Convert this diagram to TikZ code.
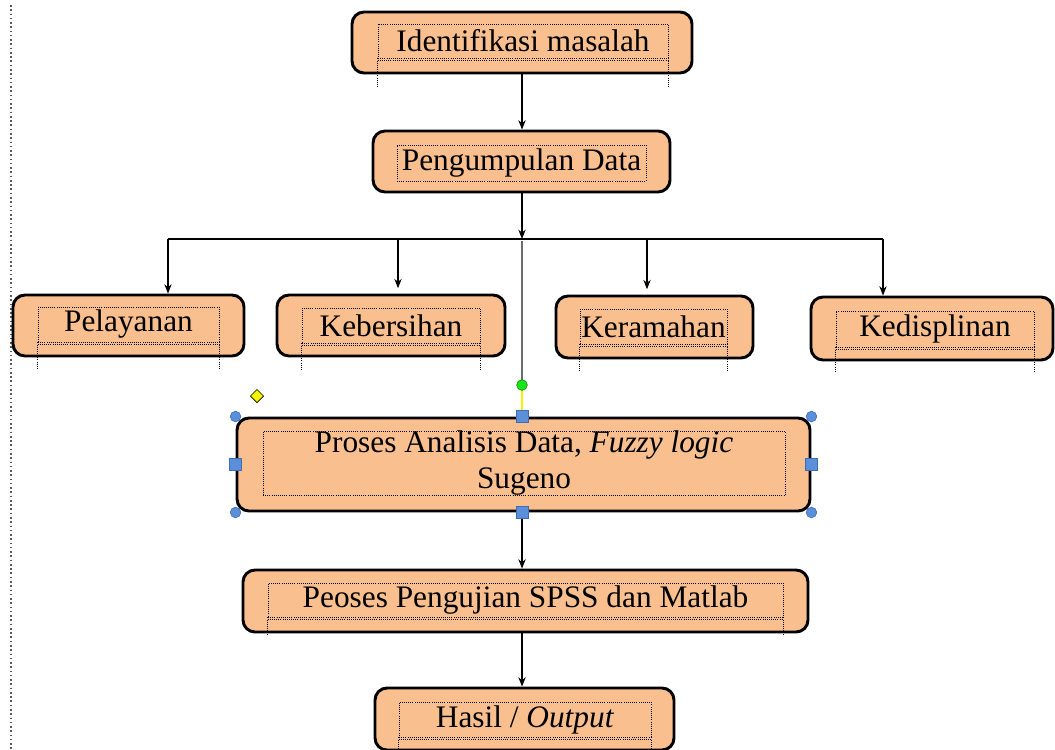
\documentclass[tikz,border=0pt]{standalone}
\usepackage{fontspec}
\setmainfont{Liberation Serif}
\usetikzlibrary{arrows.meta,calc,shapes.geometric}
\definecolor{peach}{HTML}{F9BF8F}
\definecolor{hblue}{HTML}{5B8FD9}
\definecolor{hblueD}{HTML}{3E6DB5}
\definecolor{hgreen}{HTML}{19E619}
\definecolor{hyellow}{HTML}{F5F500}
\begin{document}
\begin{tikzpicture}[x=0.75pt,y=-0.75pt,
  box/.style={draw=black, line width=2.2pt, fill=peach, rounded corners=9pt, inner sep=0pt},
  tframe/.style={draw=black, densely dotted, line width=0.6pt, inner sep=0pt,
                 font=\fontsize{23.5}{27}\selectfont, align=center},
  ext/.style={densely dotted, line width=0.6pt},
  conn/.style={line width=1pt, -{Stealth[length=7pt,width=5.5pt]}},
  plain/.style={line width=1pt},
  hcirc/.style={circle, fill=hblue, draw=hblueD, line width=0.4pt, minimum size=8pt, inner sep=0pt},
  hsq/.style={rectangle, fill=hblue, draw=hblueD, line width=0.4pt, minimum size=9pt, inner sep=0pt}]
\useasboundingbox (0,0) rectangle (1055,749);
\clip (0,0) rectangle (1055,749);

% left margin guide
\coordinate (gTop) at (11,5);
\coordinate (gBot) at (11,749);
\draw[gray!70!black, dotted, line width=1.2pt] (gTop) -- (gBot);

% boxes
\node[box, minimum width=255pt,    minimum height=45.75pt] (b1) at (522,42.5) {};
\node[box, minimum width=222.75pt, minimum height=45.75pt] (b2) at (521.5,161.5) {};
\node[box, minimum width=173.25pt, minimum height=45.75pt] (b3) at (128.5,325.5) {};
\node[box, minimum width=171pt,    minimum height=45.75pt] (b4) at (391,325.5) {};
\node[box, minimum width=147.75pt, minimum height=46.5pt]  (b5) at (654.5,327) {};
\node[box, minimum width=181.5pt,  minimum height=47.25pt] (b6) at (932,328.5) {};
\node[box, minimum width=429.75pt, minimum height=69.75pt] (b7) at (523.5,464.5) {};
\node[box, minimum width=423.75pt, minimum height=46.5pt]  (b8) at (525.5,601) {};
\node[box, minimum width=224.25pt, minimum height=46.5pt]  (b9) at (524.5,719) {};

% dotted text frames with the texts
\node[tframe, minimum width=217.5pt,  minimum height=25.5pt]  (t1) at (523,41)    {Identifikasi masalah};
\node[tframe, minimum width=186.75pt, minimum height=27pt]    (t2) at (521.5,163) {Pengumpulan Data};
\node[tframe, minimum width=135.75pt, minimum height=26.25pt] (t3) at (128.5,324.5) {Pelayanan};
\node[tframe, minimum width=133.5pt,  minimum height=26.25pt] (t4) at (391,325.5)  {Kebersihan};
\node[tframe, minimum width=110.25pt, minimum height=26.25pt] (t5) at (653.5,326.5) {Keramahan};
\node[tframe, minimum width=148.5pt,  minimum height=27pt]    (t6) at (935,329)   {Kedisplinan};
\node[tframe, minimum width=391.5pt,  minimum height=47.25pt] (t7) at (524,463.5)  {Proses Analisis Data, \textit{Fuzzy logic}\\Sugeno};
\node[tframe, minimum width=386.25pt, minimum height=25.5pt]  (t8) at (525.5,600)  {Peoses Pengujian SPSS dan Matlab};
\node[tframe, minimum width=189pt,    minimum height=26.25pt] (t9) at (525,719.5)  {Hasil / \textit{Output}};

% doubled lower edges and dotted extensions
\foreach \t/\d in {t1/28, t3/26, t4/27, t5/26, t6/25, t8/18, t9/20} {
  \draw[ext] ($(\t.south west)+(0,2)$) -- ($(\t.south east)+(0,2)$);
  \draw[ext] (\t.south west) -- ++(0,\d);
  \draw[ext] (\t.south east) -- ++(0,\d);
}

% connectors
\coordinate (cx) at (522,0);
\coordinate (j)  at (522,239);
\coordinate (jl) at (168,239);
\coordinate (jr) at (883,239);
\coordinate (j4) at (398,239);
\coordinate (j5) at (647,239);
\coordinate (gc) at (522,385);

\draw[conn] (b1.south -| cx) -- (b2.north -| cx);
\draw[conn] (b2.south -| cx) -- (j);
\draw[plain] (jl) -- (jr);
\draw[conn] (jl) -- (jl |- b3.north);
\draw[conn, shorten >=4pt] (j4) -- (j4 |- b4.north);
\draw[conn, shorten >=4pt] (j5) -- (j5 |- b5.north);
\draw[conn] (jr) -- (jr |- b6.north);
\draw[conn] (b7.south -| cx) -- (b8.north -| cx);
\draw[conn] (b8.south -| cx) -- (b9.north -| cx);

% grey line to rotation handle, yellow link
\draw[gray!85!black, line width=2pt] ($(j)+(0,2)$) -- (gc);
\draw[hyellow, line width=1.5pt, -{Stealth[length=5pt,width=5pt,black!70]}] (gc) -- (b7.north -| cx);

% selection handles of the selected shape
\node[hcirc] (hNW) at (b7.north west) {};
\node[hcirc] (hNE) at (b7.north east) {};
\node[hcirc] (hSW) at (b7.south west) {};
\node[hcirc] (hSE) at (b7.south east) {};
\node[hsq] (hN) at (b7.north -| cx) {};
\node[hsq] (hS) at (b7.south -| cx) {};
\node[hsq] (hW) at (b7.west) {};
\node[hsq] (hE) at (b7.east) {};
\node[circle, fill=hgreen, draw=green!50!black, line width=0.4pt, minimum size=8pt, inner sep=0pt] (rot) at (gc) {};
\node[diamond, fill=hyellow, draw=black, line width=0.5pt, minimum size=10pt, inner sep=0pt] (adj) at (257,396) {};
\end{tikzpicture}
\end{document}
